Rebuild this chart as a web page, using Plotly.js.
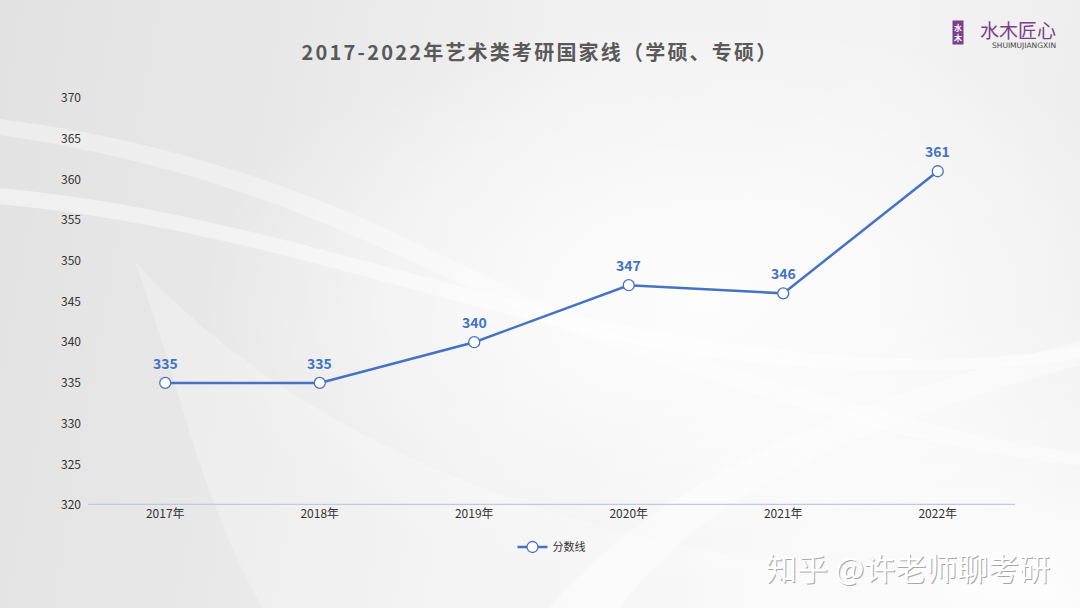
<!DOCTYPE html>
<html>
<head>
<meta charset="utf-8">
<script src="https://cdn.plot.ly/plotly-3.0.1.min.js"></script>
<style>
html,body{margin:0;padding:0;}
#chart{width:1080px;height:608px;
background:
 radial-gradient(ellipse 55% 55% at 65% 50%, rgba(255,255,255,0.85) 0%, rgba(255,255,255,0.35) 55%, rgba(255,255,255,0) 85%),
 radial-gradient(ellipse 45% 45% at 95% 95%, rgba(255,255,255,0.9) 0%, rgba(255,255,255,0) 100%),
 linear-gradient(100deg, #e2e2e2 0%, #e7e7e7 22%, #f1f1f1 50%, #f3f3f3 75%, #ececec 100%);}
.gtitle{letter-spacing:2.2px;}
</style>
</head>
<body>
<div id="chart"></div>
<script>
const years = ["2017年","2018年","2019年","2020年","2021年","2022年"];
const scores = [335, 335, 340, 347, 346, 361];
const seriesName = "分数线";
const yTicks = [320,325,330,335,340,345,350,355,360,365,370];

const blue = "#4472C4";
const font = "Noto Sans CJK SC, Noto Sans, sans-serif";

const trace = {
  x: years, y: scores, type: "scatter", mode: "lines+markers", name: seriesName,
  line: {color: blue, width: 2.5},
  marker: {size: 11, color: "#ffffff", line: {color: blue, width: 1.3}},
  cliponaxis: false
};

const labelAnns = years.map((c, i) => ({
  x: c, y: scores[i], xref: "x", yref: "y", text: "<b>" + scores[i] + "</b>",
  showarrow: false, yshift: 20, font: {family: font, size: 14, color: blue}
}));

const P = (px) => (px - 88) / 927;     // paper x from pixel
const Q = (py) => (505 - py) / 407;    // paper y from pixel

const swooshes = [
  {type:"path", xref:"paper", yref:"paper", layer:"below",
   path:"M -0.1,0.78 C 0.2,0.72 0.45,0.45 0.75,0.38 C 0.9,0.34 1.0,0.36 1.1,0.40 L 1.1,0.37 C 0.95,0.31 0.8,0.33 0.7,0.355 C 0.45,0.42 0.2,0.68 -0.1,0.74 Z",
   fillcolor:"rgba(255,255,255,0.45)", line:{width:0}},
  {type:"path", xref:"paper", yref:"paper", layer:"below",
   path:"M -0.1,0.95 C 0.25,0.85 0.4,0.55 0.6,0.40 C 0.75,0.30 0.95,0.15 1.1,0.12 L 1.1,0.09 C 0.9,0.13 0.72,0.27 0.57,0.385 C 0.38,0.53 0.22,0.81 -0.1,0.91 Z",
   fillcolor:"rgba(255,255,255,0.35)", line:{width:0}},
  {type:"path", xref:"paper", yref:"paper", layer:"below",
   path:"M 0.48,-0.3 C 0.6,0.05 0.8,0.25 1.1,0.42 L 1.1,0.36 C 0.82,0.2 0.64,0.0 0.56,-0.3 Z",
   fillcolor:"rgba(255,255,255,0.4)", line:{width:0}},
  {type:"path", xref:"paper", yref:"paper", layer:"below",
   path:"M 0.05,0.6 C 0.1,0.3 0.12,0.0 0.2,-0.3 L 1.1,-0.3 L 1.1,-0.2 C 0.6,-0.2 0.25,0.1 0.05,0.6 Z",
   fillcolor:"rgba(255,255,255,0.25)", line:{width:0}}
];

const baseline = {type:"line", xref:"paper", yref:"y", x0:0, x1:1, y0:320, y1:320,
  line:{color:"#c0c9df", width:2.5}};

const layout = {
  width: 1080, height: 608,
  paper_bgcolor: "rgba(0,0,0,0)", plot_bgcolor: "rgba(0,0,0,0)",
  margin: {l: 88, r: 65, t: 98, b: 103},
  title: {text: "<b>2017-2022年艺术类考研国家线（学硕、专硕）</b>", x: 0.5, xanchor: "center",
          y: 0.913, yanchor: "middle",
          font: {family: font, size: 20, color: "#595959"}},
  xaxis: {type: "category", range: [-0.5, 5.5], showgrid: false, zeroline: false, showline: false,
          ticks: "", tickfont: {family: font, size: 12, color: "#333333"}, fixedrange: true},
  yaxis: {range: [320, 370], tickvals: yTicks, showgrid: false, zeroline: false, showline: false,
          ticks: "", ticklabelstandoff: 6, tickfont: {family: font, size: 12, color: "#333333"}},
  showlegend: true,
  legend: {orientation: "h", x: 0.5, xanchor: "center", y: Q(547), yanchor: "middle",
           font: {family: font, size: 11, color: "#333333"}, bgcolor: "rgba(0,0,0,0)"},
  shapes: swooshes.concat([baseline]),
  annotations: labelAnns.concat([
    {xref:"paper", yref:"paper", x:P(1057), y:Q(29), xanchor:"right", yanchor:"middle",
     text:"水木匠心", showarrow:false, borderpad:0, font:{family:font, size:19, color:"#7b3f8c"}},
    {xref:"paper", yref:"paper", x:P(1057), y:Q(45.5), xanchor:"right", yanchor:"middle",
     text:"SHUIMUJIANGXIN", showarrow:false, borderpad:0, font:{family:"DejaVu Sans, sans-serif", size:7.5, color:"#444444"}},
    {xref:"paper", yref:"paper", x:P(958), y:Q(33), xanchor:"center", yanchor:"middle",
     text:"<b>水<br>木</b>", showarrow:false, bgcolor:"#7b3f8c", borderpad:1,
     font:{family:font, size:8, color:"#ffffff"}},
    {xref:"paper", yref:"paper", x:P(1053), y:Q(567), xanchor:"right", yanchor:"middle",
     text:"知乎 @许老师聊考研", showarrow:false, font:{family:font, size:31, color:"#a8a8a8"}},
    {xref:"paper", yref:"paper", x:P(1052), y:Q(566), xanchor:"right", yanchor:"middle",
     text:"知乎 @许老师聊考研", showarrow:false, font:{family:font, size:31, color:"#ffffff"}}
  ])
};

Plotly.newPlot("chart", [trace], layout, {displayModeBar: false, staticPlot: true});
</script>
</body>
</html>
